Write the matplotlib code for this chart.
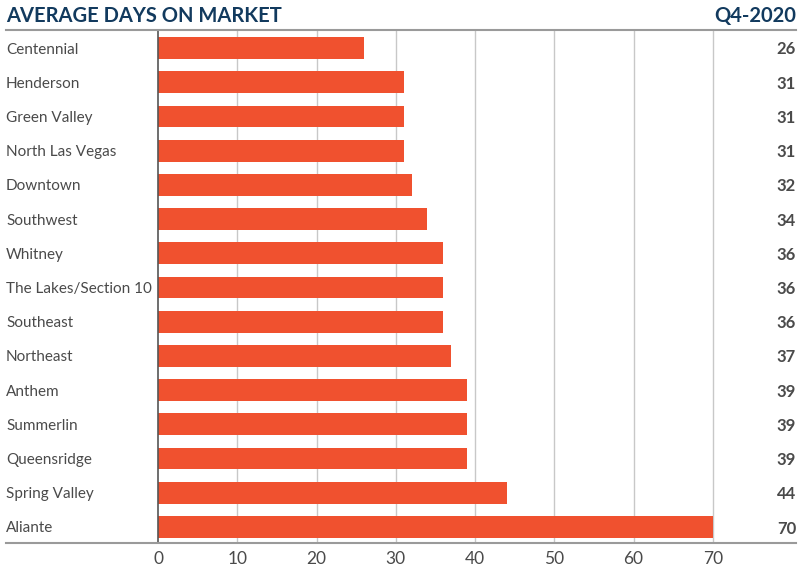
import matplotlib.pyplot as plt
from matplotlib.lines import Line2D
import numpy as np

plt.rcParams['font.family'] = ['Lato', 'DejaVu Sans']

areas = ['Centennial', 'Henderson', 'Green Valley', 'North Las Vegas', 'Downtown',
         'Southwest', 'Whitney', 'The Lakes/Section 10', 'Southeast', 'Northeast',
         'Anthem', 'Summerlin', 'Queensridge', 'Spring Valley', 'Aliante']
days = [26, 31, 31, 31, 32, 34, 36, 36, 36, 37, 39, 39, 39, 44, 70]
ticks = [0, 10, 20, 30, 40, 50, 60, 70]

bar_color = '#f0512f'
navy = '#123a5e'
text_gray = '#4a4a4a'

W, H = 800, 579
fig = plt.figure(figsize=(8, 5.79), dpi=100)
ax = fig.add_axes([158 / W, 1 - 543 / H, (792 - 158) / W, (543 - 30) / H])

y = np.arange(len(areas))
ax.barh(y, days, height=0.64, color=bar_color, zorder=3)
ax.set_xlim(0, 80)
ax.set_ylim(14.47, -0.53)

for t in ticks[1:]:
    ax.axvline(t, color='#c8c8c8', lw=1, zorder=1)

for s in ['top', 'right', 'bottom']:
    ax.spines[s].set_visible(False)
ax.spines['left'].set_color('#555555')
ax.spines['left'].set_linewidth(1.2)
ax.spines['left'].set_zorder(4)

ax.set_yticks([])
ax.set_xticks(ticks)
ax.set_xticklabels([str(t) for t in ticks], fontsize=12.5, color=text_gray)
ax.tick_params(axis='x', length=0, pad=6)

# category and value labels
for i, (a, d) in enumerate(zip(areas, days)):
    yy = 1 - (49.5 + i * (527 - 48) / 14) / H
    fig.text(6 / W, yy, a, ha='left', va='center', fontsize=11, color=text_gray)
    fig.text(796 / W, yy, str(d), ha='right', va='center', fontsize=12,
             color=text_gray, fontweight='bold')

# top and bottom rules
fig.add_artist(Line2D([6 / W, 796 / W], [1 - 30 / H] * 2, color='#9a9a9a', lw=1.5))
fig.add_artist(Line2D([6 / W, 796 / W], [1 - 543 / H] * 2, color='#9a9a9a', lw=1.5))

fig.text(6 / W, 1 - 16 / H, 'AVERAGE DAYS ON MARKET', ha='left', va='center',
         fontsize=14.5, fontweight='bold', color=navy)
fig.text(796 / W, 1 - 16 / H, 'Q4-2020', ha='right', va='center',
         fontsize=14.5, fontweight='bold', color=navy)

fig.savefig('out.png', dpi=100)
